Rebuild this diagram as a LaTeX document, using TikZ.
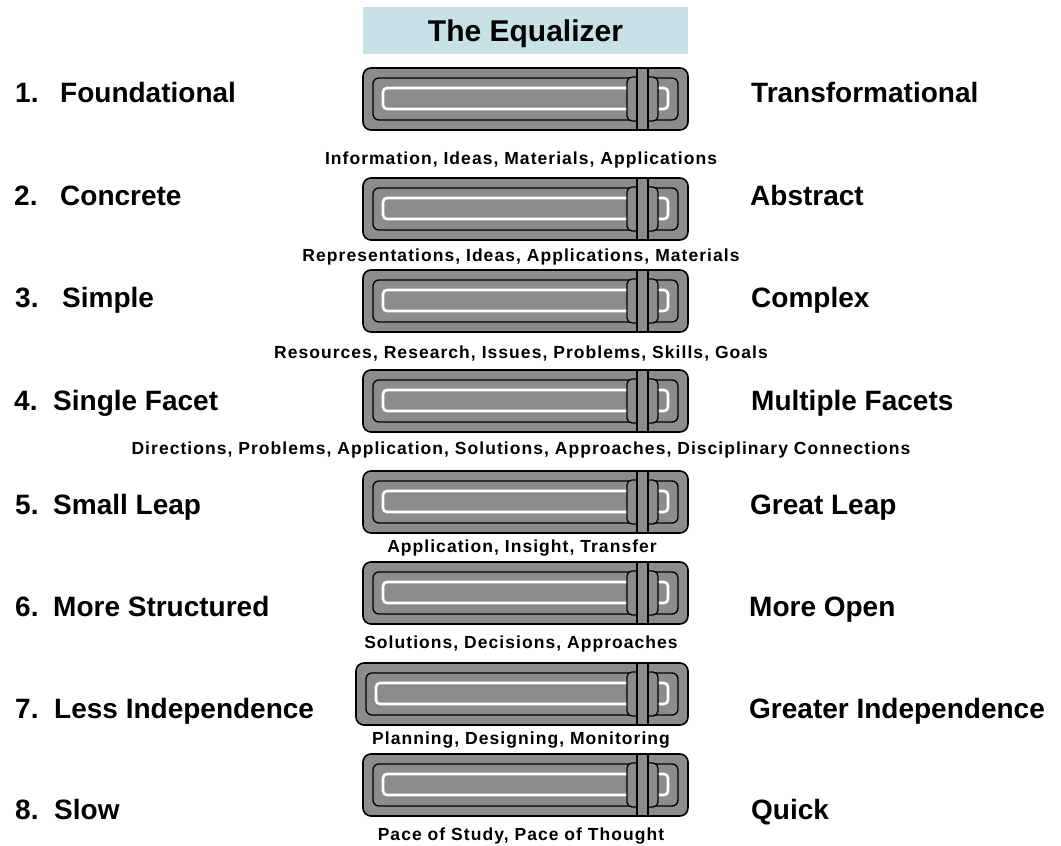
\documentclass[tikz,border=0pt]{standalone}
\usepackage{fontspec}
\setmainfont{Liberation Sans}
\newfontfamily\itemfont[LetterSpace=6]{Liberation Sans}
\usepackage{xcolor}
\usepackage{tikz}
\usetikzlibrary{positioning}

\definecolor{slidergray}{RGB}{140,140,140}
\definecolor{titleblue}{RGB}{198,226,231}

% one slider: #1 = left edge, #2 = top edge
\newcommand{\eqslider}[2]{%
  \draw[sframe] (#1,#2) rectangle (688,#2+62);
  \draw[sinner] (#1+10,#2+10) rectangle (678,#2+52);
  \draw[strack] (#1+20,#2+20) rectangle (668,#2+41);
  \draw[sknob] (627,#2+9) rectangle (658,#2+53);
  \draw[sbar] (637,#2) rectangle (648,#2+62);
}

\begin{document}
\begin{tikzpicture}[
    x=1pt, y=-1pt,
    titlebox/.style={fill=titleblue, minimum width=325pt, minimum height=47pt, text height=21pt, text depth=0pt, font=\fontsize{30}{32}\selectfont\bfseries},
    side/.style={inner sep=0pt, anchor=base west, font=\fontsize{28}{30}\selectfont\bfseries},
    items/.style={inner sep=0pt, anchor=base, font=\itemfont\fontsize{17.5}{19}\selectfont\bfseries},
    sframe/.style={draw, line width=1.6pt, fill=slidergray, rounded corners=8pt},
    sinner/.style={draw, line width=1.3pt, fill=slidergray, rounded corners=6pt},
    strack/.style={draw=white, line width=2.6pt, fill=slidergray, rounded corners=4pt},
    sknob/.style={draw, line width=1.3pt, fill=slidergray, rounded corners=5pt},
    sbar/.style={draw, line width=1.3pt, fill=slidergray}
]
    \useasboundingbox (0,0) rectangle (1061,846);

    % Title
    \node[titlebox] (title) at (525.5,30.5) {The Equalizer};

    % Sliders
    \eqslider{363}{68}
    \eqslider{363}{178}
    \eqslider{363}{270}
    \eqslider{363}{370}
    \eqslider{363}{471}
    \eqslider{363}{562}
    \eqslider{356}{663}
    \eqslider{363}{754}

    % Left ends
    \node[side] (n1) at (15,102) {1.};
    \node[side] (l1) at (60,102) {Foundational};
    \node[side] (n2) at (14,205) {2.};
    \node[side] (l2) at (60,205) {Concrete};
    \node[side] (n3) at (15,307) {3.};
    \node[side] (l3) at (62,307) {Simple};
    \node[side] (n4) at (14,410) {4.};
    \node[side] (l4) at (53,410) {Single Facet};
    \node[side] (n5) at (15,514) {5.};
    \node[side] (l5) at (53,514) {Small Leap};
    \node[side] (n6) at (15,616) {6.};
    \node[side] (l6) at (53,616) {More Structured};
    \node[side] (n7) at (15,718) {7.};
    \node[side] (l7) at (54,718) {Less Independence};
    \node[side] (n8) at (15,819) {8.};
    \node[side] (l8) at (54,819) {Slow};

    % Right ends
    \node[side] (r1) at (751,102) {Transformational};
    \node[side] (r2) at (750,205) {Abstract};
    \node[side] (r3) at (751,307) {Complex};
    \node[side] (r4) at (751,410) {Multiple Facets};
    \node[side] (r5) at (750,514) {Great Leap};
    \node[side] (r6) at (749,616) {More Open};
    \node[side] (r7) at (749,718) {Greater Independence};
    \node[side] (r8) at (751,819) {Quick};

    % What each slider moves
    \node[items] (d1) at (521,164) {Information, Ideas, Materials, Applications};
    \node[items] (d2) at (521,261) {Representations, Ideas, Applications, Materials};
    \node[items] (d3) at (521,358) {Resources, Research, Issues, Problems, Skills, Goals};
    \node[items] (d4) at (521,454) {Directions, Problems, Application, Solutions, Approaches, Disciplinary Connections};
    \node[items] (d5) at (522,552) {Application, Insight, Transfer};
    \node[items] (d6) at (521,648) {Solutions, Decisions, Approaches};
    \node[items] (d7) at (521,744) {Planning, Designing, Monitoring};
    \node[items] (d8) at (521,840) {Pace of Study, Pace of Thought};

\end{tikzpicture}
\end{document}
